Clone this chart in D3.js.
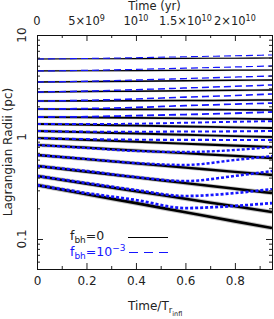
<!DOCTYPE html>
<html>
<head>
<meta charset="utf-8">
<script src="https://cdn.jsdelivr.net/npm/d3@7"></script>
<style>
  body { margin: 0; background: #fff; }
  text { font-family: "DejaVu Sans", sans-serif; fill: #222; }
</style>
</head>
<body>
<svg id="chart" width="274" height="319"></svg>
<script>
// time in units of T_r_infl
const timeT = [0, 0.2, 0.4, 0.6, 0.8, 0.95];

// Lagrangian radii (pc), outermost first, f_bh = 0
const radiiNoBH = [
  [5.82, 5.85, 5.87, 5.90, 5.92, 5.95],
  [4.44, 4.46, 4.48, 4.50, 4.52, 4.54],
  [3.46, 3.49, 3.52, 3.56, 3.60, 3.62],
  [2.76, 2.79, 2.81, 2.84, 2.87, 2.89],
  [2.25, 2.26, 2.27, 2.28, 2.29, 2.31],
  [1.88, 1.87, 1.865, 1.86, 1.85, 1.84],
  [1.57, 1.556, 1.542, 1.525, 1.51, 1.50],
  [1.34, 1.317, 1.291, 1.268, 1.242, 1.225],
  [1.145, 1.112, 1.082, 1.051, 1.020, 1.0],
  [0.978, 0.937, 0.897, 0.860, 0.823, 0.798],
  [0.835, 0.785, 0.737, 0.693, 0.653, 0.622],
  [0.666, 0.606, 0.551, 0.501, 0.456, 0.424],
  [0.520, 0.457, 0.402, 0.353, 0.311, 0.282],
  [0.415, 0.349, 0.294, 0.248, 0.209, 0.184],
  [0.338, 0.275, 0.225, 0.183, 0.149, 0.128]
];

// f_bh = 1e-3
const radiiBH = [
  [5.82, 5.89, 5.99, 6.12, 6.25, 6.37],
  [4.44, 4.50, 4.60, 4.73, 4.86, 4.97],
  [3.46, 3.52, 3.62, 3.74, 3.87, 3.96],
  [2.76, 2.82, 2.91, 3.02, 3.14, 3.24],
  [2.25, 2.29, 2.36, 2.46, 2.55, 2.64],
  [1.88, 1.90, 1.95, 2.03, 2.10, 2.15],
  [1.57, 1.58, 1.62, 1.66, 1.71, 1.76],
  [1.34, 1.34, 1.35, 1.38, 1.41, 1.43],
  [1.145, 1.128, 1.126, 1.132, 1.136, 1.145],
  [0.978, 0.952, 0.940, 0.938, 0.934, 0.934],
  [0.835, 0.780, 0.729, 0.713, 0.746, 0.798],
  [0.666, 0.609, 0.556, 0.532, 0.595, 0.651],
  [0.520, 0.464, 0.405, 0.370, 0.415, 0.464],
  [0.415, 0.354, 0.302, 0.264, 0.282, 0.309],
  [0.338, 0.282, 0.241, 0.201, 0.211, 0.225]
];

const bottomTicks = [0, 0.2, 0.4, 0.6, 0.8];
const bottomMinor = [0.1, 0.3, 0.5, 0.7, 0.9];
const topTicks = [0, 5e9, 1e10, 1.5e10, 2e10];
const topMinor = [2.5e9, 7.5e9, 1.25e10, 1.75e10, 2.25e10];
const topLabels = [["0", ""], ["5\u00d710", "9"], ["10", "10"], ["1.5\u00d710", "10"], ["2\u00d710", "10"]];
const leftTicks = [0.1, 1, 10];
const leftLabels = ["0.1", "1", "10"];
const leftMinor = [0.06, 0.07, 0.08, 0.09, 0.2, 0.3, 0.4, 0.5, 0.6, 0.7, 0.8, 0.9, 2, 3, 4, 5, 6, 7, 8, 9];

const yrPerT = 2.5e10;
const blue = "#1515ff";

let svg = d3.select("#chart");
let pLeft = 37, pRight = 272, pTop = 35, pBottom = 269;

let x = d3.scaleLinear().domain([0, 0.95]).range([pLeft, pRight]);
let xTop = d3.scaleLinear().domain([0, 0.95 * yrPerT]).range([pLeft, pRight]);
let y = d3.scaleLog().domain([0.0508, 10]).range([pBottom, pTop]);

svg.append("clipPath").attr("id", "plot")
  .append("rect").attr("x", pLeft).attr("y", pTop)
  .attr("width", pRight - pLeft).attr("height", pBottom - pTop);

let line = d3.line()
  .x((d, i) => x(timeT[i]))
  .y(d => y(d))
  .curve(d3.curveMonotoneX);

let lines = svg.append("g").attr("clip-path", "url(#plot)");

// soft grey halo under the noisy inner curves
lines.selectAll("path.halo")
  .data(radiiNoBH)
  .join("path")
  .attr("class", "halo")
  .attr("d", line)
  .attr("fill", "none")
  .attr("stroke", "#777")
  .attr("stroke-opacity", 0.45)
  .attr("stroke-width", (d, i) => 1.6 + i * 0.22);

lines.selectAll("path.nobh")
  .data(radiiNoBH)
  .join("path")
  .attr("class", "nobh")
  .attr("d", line)
  .attr("fill", "none")
  .attr("stroke", "#000")
  .attr("stroke-width", (d, i) => 1.1 + i * 0.11);

lines.selectAll("path.bh")
  .data(radiiBH)
  .join("path")
  .attr("class", "bh")
  .attr("d", line)
  .attr("fill", "none")
  .attr("stroke", blue)
  .attr("stroke-width", (d, i) => 1.1 + i * 0.12)
  .attr("stroke-dasharray", (d, i) => i < 7 ? "7,4" : (i < 10 ? "4,3" : "3,2"));

// axes, ticks pointing inward
function strip(g) {
  g.select(".domain").remove();
  g.selectAll("line").attr("stroke", "#222");
}

svg.append("g").attr("transform", `translate(0,${pBottom})`)
  .call(d3.axisBottom(x).tickValues(bottomTicks).tickSize(-6).tickPadding(7)
    .tickFormat(d => d === 0 ? "0" : d3.format(".1f")(d)))
  .call(strip)
  .selectAll("text").attr("font-size", 12).style("font-family", "DejaVu Sans");

svg.append("g").attr("transform", `translate(0,${pBottom})`)
  .call(d3.axisBottom(x).tickValues(bottomMinor).tickSize(-3).tickFormat(""))
  .call(strip);

svg.append("g").attr("transform", `translate(0,${pTop})`)
  .call(d3.axisTop(xTop).tickValues(topTicks).tickSize(-6).tickFormat(""))
  .call(strip);

svg.append("g").attr("transform", `translate(0,${pTop})`)
  .call(d3.axisTop(xTop).tickValues(topMinor).tickSize(-3).tickFormat(""))
  .call(strip);

svg.append("g").attr("transform", `translate(${pLeft},0)`)
  .call(d3.axisLeft(y).tickValues(leftTicks).tickSize(-6).tickFormat(""))
  .call(strip);
svg.append("g").attr("transform", `translate(${pLeft},0)`)
  .call(d3.axisLeft(y).tickValues(leftMinor).tickSize(-3).tickFormat(""))
  .call(strip);
svg.append("g").attr("transform", `translate(${pRight},0)`)
  .call(d3.axisRight(y).tickValues(leftTicks).tickSize(-6).tickFormat(""))
  .call(strip);
svg.append("g").attr("transform", `translate(${pRight},0)`)
  .call(d3.axisRight(y).tickValues(leftMinor).tickSize(-3).tickFormat(""))
  .call(strip);

svg.append("rect")
  .attr("x", pLeft + 0.5).attr("y", pTop + 0.5)
  .attr("width", pRight - pLeft).attr("height", pBottom - pTop)
  .attr("fill", "none").attr("stroke", "#111").attr("stroke-width", 1);

// left tick labels, rotated
svg.append("g").selectAll("text")
  .data(leftTicks)
  .join("text")
  .attr("transform", d => `translate(26,${y(d)}) rotate(-90)`)
  .attr("text-anchor", "middle")
  .attr("font-size", 12)
  .text((d, i) => leftLabels[i]);

// top tick labels with exponents
let tl = svg.append("g").selectAll("text")
  .data(topTicks)
  .join("text")
  .attr("x", d => xTop(d))
  .attr("y", 25)
  .attr("text-anchor", "middle")
  .attr("font-size", 11.5);
tl.append("tspan").text((d, i) => topLabels[i][0]);
tl.append("tspan").attr("dy", -4.5).attr("font-size", 8).text((d, i) => topLabels[i][1]);

// titles
svg.append("text").attr("x", (pLeft + pRight) / 2).attr("y", 10)
  .attr("text-anchor", "middle").attr("font-size", 11.5).text("Time (yr)");

svg.append("text")
  .attr("transform", `translate(12,${(pTop + pBottom) / 2}) rotate(-90)`)
  .attr("text-anchor", "middle").attr("font-size", 12)
  .text("Lagrangian Radii (pc)");

let xt = svg.append("text").attr("x", 128).attr("y", 310).attr("font-size", 12);
xt.append("tspan").text("Time/T");
xt.append("tspan").attr("dy", 3).attr("font-size", 8.5).text("r");
xt.append("tspan").attr("dy", 3).attr("font-size", 6.5).text("infl");

// legend
let l1 = svg.append("text").attr("x", 70).attr("y", 240).attr("font-size", 12.5);
l1.append("tspan").text("f");
l1.append("tspan").attr("dy", 3).attr("font-size", 9).text("bh");
l1.append("tspan").attr("dy", -3).text("=0");
svg.append("line").attr("x1", 128).attr("x2", 168).attr("y1", 237.5).attr("y2", 237.5)
  .attr("stroke", "#000").attr("stroke-width", 1);

let l2 = svg.append("text").attr("x", 70).attr("y", 256).attr("font-size", 12.5)
  .style("fill", blue);
l2.append("tspan").text("f");
l2.append("tspan").attr("dy", 3).attr("font-size", 9).text("bh");
l2.append("tspan").attr("dy", -3).text("=10");
l2.append("tspan").attr("dy", -5).attr("font-size", 9).text("\u22123");
svg.append("line").attr("x1", 129).attr("x2", 168).attr("y1", 252.5).attr("y2", 252.5)
  .attr("stroke", blue).attr("stroke-width", 1.2).attr("stroke-dasharray", "9,6");
</script>
</body>
</html>
